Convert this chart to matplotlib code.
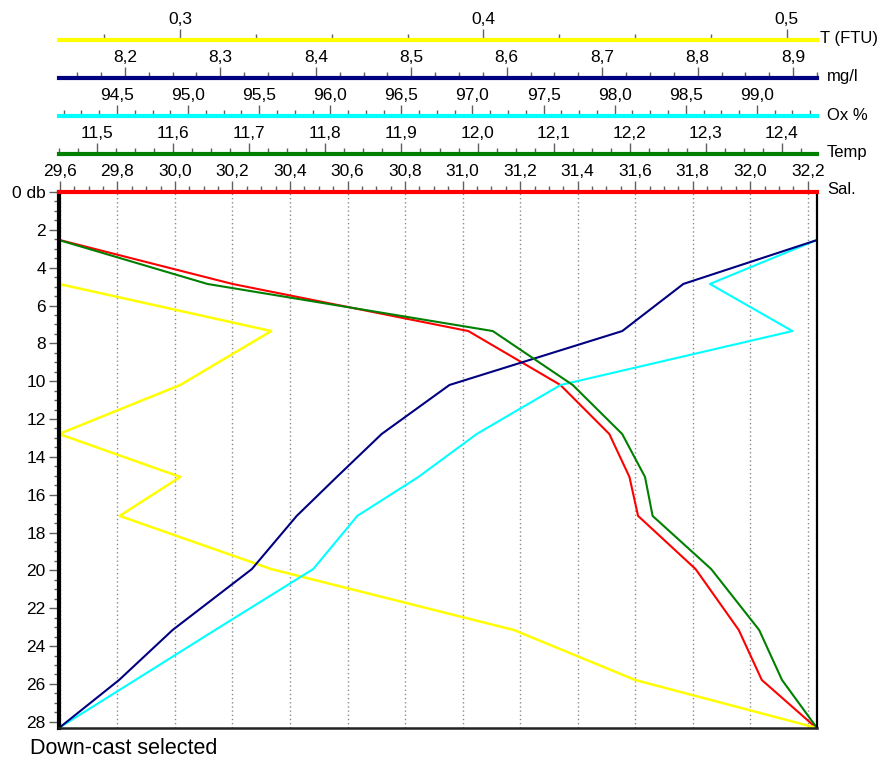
import matplotlib
matplotlib.use('Agg')
import matplotlib.pyplot as plt
from matplotlib.ticker import MultipleLocator, FuncFormatter

plt.rcParams['font.family'] = ['Liberation Sans', 'DejaVu Sans']

# ---- data ----
depth = [2.54, 4.86, 7.35, 10.20, 12.79, 15.06, 17.12, 19.93, 23.15, 25.79, 28.33]
salinity = [29.60, 30.20, 31.02, 31.34, 31.51, 31.58, 31.61, 31.81, 31.96, 32.04, 32.23]
temperature = [11.450, 11.645, 12.020, 12.125, 12.190, 12.220, 12.230, 12.307, 12.370, 12.400, 12.446]
oxygen_pct = [99.42, 98.67, 99.25, 97.62, 97.03, 96.62, 96.19, 95.88, 95.19, 94.63, 94.09]
oxygen_mgl = [8.925, 8.785, 8.721, 8.540, 8.469, 8.422, 8.380, 8.333, 8.250, 8.194, 8.131]
turb_depth = depth[1:]
turbidity = [0.26, 0.33, 0.30, 0.26, 0.30, 0.28, 0.33, 0.41, 0.45, 0.51]

sal_lim = (29.597, 32.232)
temp_lim = (11.450, 12.446)
ox_lim = (94.092, 99.423)
mgl_lim = (8.131, 8.925)
ftu_lim = (0.2600, 0.5100)
depth_max = 28.33

W, H = 885, 760
fig = plt.figure(figsize=(W / 100, H / 100), dpi=100)
fig.patch.set_facecolor('white')


def fx(px):
    return px / W


def fy(py):
    return 1 - py / H


L, R, T, B = 59, 817, 192, 728
TICKC = '#606060'
FS = 12.5

# ---- main axes (depth) ----
ax = fig.add_axes([fx(L), fy(B), (R - L) / W, (B - T) / H])
ax.set_zorder(5)
ax.patch.set_visible(False)
ax.set_xlim(*sal_lim)
ax.set_ylim(depth_max, 0)


# ---- data axes (twins under the main one) ----
def twin(lim):
    t = ax.twiny()
    t.set_zorder(1)
    t.set_xlim(*lim)
    t.set_ylim(depth_max, 0)
    for s in t.spines.values():
        s.set_visible(False)
    t.tick_params(axis='x', which='both', top=False, bottom=False,
                  labeltop=False, labelbottom=False)
    return t


ax_grid = twin(sal_lim)
ax_grid.xaxis.set_major_locator(MultipleLocator(0.2))
ax_grid.xaxis.grid(True, color='#8a8a8a', linestyle=(0, (1, 2)), linewidth=1)
ax_grid.set_axisbelow(True)

LW = 1.5
ax_ftu = twin(ftu_lim)
ax_ftu.plot(turbidity, turb_depth, color='#ffff00', lw=LW + 0.3)
ax_ox = twin(ox_lim)
ax_ox.plot(oxygen_pct, depth, color='#00ffff', lw=LW)
ax_mgl = twin(mgl_lim)
ax_mgl.plot(oxygen_mgl, depth, color='#000080', lw=LW)
ax_temp = twin(temp_lim)
ax_temp.plot(temperature, depth, color='#008000', lw=LW)
ax_grid.plot(salinity, depth, color='#ff0000', lw=LW)

# ---- configure main axes after twins (twiny resets tick side) ----
ax.yaxis.set_major_locator(MultipleLocator(2))
ax.yaxis.set_minor_locator(MultipleLocator(0.5))
ax.yaxis.set_major_formatter(FuncFormatter(lambda v, p: '0 db' if abs(v) < 1e-9 else f'{v:.0f}'))
ax.xaxis.set_major_locator(MultipleLocator(0.2))
ax.xaxis.set_minor_locator(MultipleLocator(0.05))
ax.xaxis.set_major_formatter(FuncFormatter(lambda v, p: f'{v:.1f}'.replace('.', ',')))
ax.xaxis.set_ticks_position('top')
ax.tick_params(axis='x', which='both', top=True, bottom=False, labeltop=True,
               labelbottom=False, direction='out', color=TICKC, width=1,
               labelsize=FS, pad=1.5)
ax.tick_params(axis='x', which='major', length=8)
ax.tick_params(axis='x', which='minor', length=4.5)
ax.tick_params(axis='y', which='both', left=True, right=False, direction='out',
               color=TICKC, width=1, labelsize=FS, pad=2)
ax.tick_params(axis='y', which='major', length=7.5)
ax.tick_params(axis='y', which='minor', length=3.5)
ax.spines['left'].set_color('black')
ax.spines['left'].set_linewidth(3)
ax.spines['right'].set_color('black')
ax.spines['right'].set_linewidth(1.6)
ax.spines['bottom'].set_color('#222222')
ax.spines['bottom'].set_linewidth(1.8)
ax.spines['top'].set_color('#ff0000')
ax.spines['top'].set_linewidth(3)

# ---- stacked scale strips ----
strips = [
    (40, ftu_lim, 0.1, 0.025, 1, '#ffff00', 'T (FTU)', 820),
    (78, mgl_lim, 0.1, 0.025, 1, '#000080', 'mg/l', 827),
    (116, ox_lim, 0.5, 0.125, 1, '#00ffff', 'Ox %', 827),
    (154, temp_lim, 0.1, 0.025, 1, '#008000', 'Temp', 827),
]
for ypx, lim, maj, mnr, dec, col, name, xt in strips:
    h = 0.01
    s = fig.add_axes([fx(L), fy(ypx) - h, (R - L) / W, h])
    s.patch.set_visible(False)
    s.set_xlim(*lim)
    s.set_yticks([])
    for k in ('left', 'right', 'bottom'):
        s.spines[k].set_visible(False)
    s.spines['top'].set_color(col)
    s.spines['top'].set_linewidth(3)
    s.xaxis.set_major_locator(MultipleLocator(maj))
    s.xaxis.set_minor_locator(MultipleLocator(mnr))
    s.xaxis.set_major_formatter(FuncFormatter(lambda v, p, d=dec: f'{v:.{d}f}'.replace('.', ',')))
    s.xaxis.set_ticks_position('top')
    s.tick_params(axis='x', which='both', top=True, bottom=False, labeltop=True,
                  labelbottom=False, direction='out', color=TICKC, width=1,
                  labelsize=FS, pad=1.5)
    s.tick_params(axis='x', which='major', length=8)
    s.tick_params(axis='x', which='minor', length=4.5)
    fig.text(fx(xt), fy(ypx - 1), name, ha='left', va='center', fontsize=12)

fig.text(fx(827), fy(T - 3), 'Sal.', ha='left', va='center', fontsize=12)
fig.text(fx(30), fy(748), 'Down-cast selected', ha='left', va='center', fontsize=15.5)

fig.savefig('out.png', dpi=100, facecolor='white')
